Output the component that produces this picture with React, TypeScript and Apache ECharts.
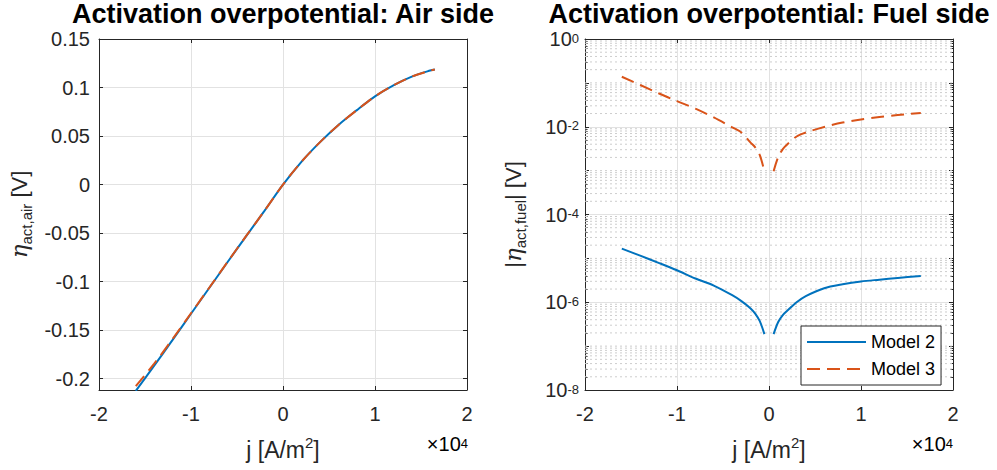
import React, { useEffect, useRef } from "react";
import * as echarts from "echarts";

// ---- data (j in units of 1e4 A/m^2) ----
const jAir = [-1.6, -1.4, -1.2, -1.0, -0.8, -0.6, -0.4, -0.2, 0, 0.2, 0.4, 0.6, 0.8, 1.0, 1.2, 1.4, 1.6, 1.65];
const etaAirModel2 = [-0.2125, -0.1865, -0.16, -0.133, -0.1063, -0.0795, -0.053, -0.0268, 0, 0.0235, 0.0435, 0.0612, 0.0765, 0.0909, 0.1022, 0.1112, 0.1175, 0.1186];
const etaAirModel3 = [-0.2075, -0.1845, -0.159, -0.1325, -0.106, -0.0793, -0.0529, -0.0268, 0, 0.0235, 0.0435, 0.0612, 0.0765, 0.0909, 0.1022, 0.1112, 0.1175, 0.1186];

const jFuel = [-1.6, -1.4, -1.2, -1.0, -0.8, -0.6, -0.4, -0.3, -0.2, -0.15, -0.1, -0.05, 0, 0.05, 0.1, 0.15, 0.2, 0.3, 0.4, 0.6, 0.8, 1.0, 1.2, 1.4, 1.65];
const etaFuelModel2: (number | null)[] = [1.67e-5, 1.156e-5, 7.91e-6, 5.35e-6, 3.47e-6, 2.4e-6, 1.445e-6, 1.06e-6, 7.24e-7, 5.5e-7, 3.7e-7, 1.88e-7, null, 1.88e-7, 3.55e-7, 5.1e-7, 6.45e-7, 1.0e-6, 1.38e-6, 2.09e-6, 2.57e-6, 2.98e-6, 3.27e-6, 3.57e-6, 3.98e-6];
const etaFuelModel3: (number | null)[] = [0.138, 0.0893, 0.058, 0.0383, 0.0258, 0.0163, 0.0097, 0.0074, 0.00436, 0.0034, 0.00225, 0.00097, null, 0.00097, 0.00205, 0.0031, 0.004, 0.006, 0.00737, 0.0099, 0.01247, 0.0147, 0.01663, 0.0185, 0.0206];

const seriesNames = ["Model 2", "Model 3"];
const titles = ["Activation overpotential: Air side", "Activation overpotential: Fuel side"];

const BLUE = "#0072BD";
const RED = "#D95319";
const AXIS = "#262626";
const GRID = "#e2e2e2";
const FONT = "'Liberation Sans', Arial, Helvetica, sans-serif";

// minor grid values of the log axis (2..9 x 10^e, plus odd decades)
const minorLog: number[] = [];
for (let e = -8; e < 0; e++) {
  for (let k = 1; k <= 9; k++) {
    if (k === 1 && e % 2 === 0) continue;
    minorLog.push(Number((k * Math.pow(10, e)).toPrecision(3)));
  }
}
// horizontal dotted lines built as one broken line series
const minorLines: any[] = [];
minorLog.forEach((v) => {
  minorLines.push([-2, v], [2, v], [0, "-"]);
});

const pairs = (xs: number[], ys: (number | null)[]) =>
  xs.map((x, i) => [x, ys[i] == null ? "-" : ys[i]]);

const tickRich = {
  b: { fontSize: 20, lineHeight: 20, verticalAlign: "bottom", fontFamily: FONT, color: AXIS },
  s: { fontSize: 13, lineHeight: 12, padding: [2.5, 0, 13.5, 0], verticalAlign: "top", fontFamily: FONT, color: AXIS },
};

const nameRich = {
  a: { fontSize: 23, lineHeight: 30, fontFamily: FONT, color: AXIS },
  s: { fontSize: 15, lineHeight: 15, padding: [0, 0, 15, 0], verticalAlign: "top", fontFamily: FONT, color: AXIS },
};

const yNameRich = {
  e: { fontSize: 23, lineHeight: 30, fontFamily: "'DejaVu Serif', serif", fontStyle: "italic", color: AXIS },
  a: { fontSize: 22, lineHeight: 30, fontFamily: FONT, color: AXIS },
  sub: { fontSize: 15, lineHeight: 15, verticalAlign: "bottom", fontFamily: FONT, color: AXIS },
};

export default function App() {
  const ref = useRef<HTMLDivElement>(null);
  useEffect(() => {
    document.body.style.margin = "0";
    if (!ref.current) return;
    const chart = echarts.init(ref.current, undefined, { renderer: "svg" });

    const baseX = (gridIndex: number, top: boolean, withName: boolean) => ({
      gridIndex,
      type: "value",
      position: top ? "top" : "bottom",
      min: -2,
      max: 2,
      interval: 1,
      axisLine: { show: true, onZero: false, lineStyle: { color: AXIS, width: 1 } },
      axisTick: { show: true, inside: true, length: 4, lineStyle: { color: AXIS } },
      axisLabel: { show: !top, fontSize: 20, color: AXIS, margin: 14, fontFamily: FONT },
      splitLine: { show: !top, lineStyle: { color: GRID, width: 1 } },
      name: withName ? "{a|j [A/m}{s|2}{a|]}" : "",
      nameLocation: "middle",
      nameGap: 45,
      nameTextStyle: { rich: nameRich },
    });

    const airY = (right: boolean) => ({
      gridIndex: 0,
      type: "value",
      position: right ? "right" : "left",
      min: -0.2116,
      max: 0.15,
      splitNumber: 7,
      minInterval: 0.05,
      maxInterval: 0.05,
      axisLine: { show: true, onZero: false, lineStyle: { color: AXIS, width: 1 } },
      axisTick: { show: true, inside: true, length: 4, lineStyle: { color: AXIS } },
      axisLabel: { show: !right, fontSize: 20, color: AXIS, margin: 9, fontFamily: FONT, showMinLabel: false },
      splitLine: { show: !right, lineStyle: { color: GRID, width: 1 } },
      name: right ? "" : "{e|η}{sub|act,air}{a| [V]}",
      nameLocation: "middle",
      nameGap: 65,
      nameTextStyle: { rich: yNameRich },
    });

    const fuelY = (right: boolean) => ({
      gridIndex: 1,
      type: "log",
      logBase: 10,
      position: right ? "right" : "left",
      min: 1e-8,
      max: 1,
      axisLine: { show: true, onZero: false, lineStyle: { color: AXIS, width: 1 } },
      axisTick: { show: true, inside: true, length: 4, lineStyle: { color: AXIS } },
      axisLabel: {
        show: !right,
        margin: 6,
        formatter: (v: number) => {
          const e = Math.round(Math.log10(v));
          if (e % 2 !== 0) return "";
          return `{b|10}{s|${e}}`;
        },
        rich: tickRich,
      },
      splitLine: { show: !right, lineStyle: { color: [GRID, "rgba(0,0,0,0)"], width: 1 } },
      name: right ? "" : "{a||}{e|η}{sub|act,fuel}{a|| [V]}",
      nameLocation: "middle",
      nameGap: 57,
      nameTextStyle: { rich: yNameRich },
    });

    const minorTickY = (right: boolean) => ({
      gridIndex: 1,
      type: "log",
      logBase: 10,
      position: right ? "right" : "left",
      min: 1e-8,
      max: 1,
      axisLine: { show: false, onZero: false },
      axisTick: { show: true, inside: true, length: 2.5, lineStyle: { color: AXIS }, customValues: minorLog },
      axisLabel: { show: false },
      splitLine: { show: false },
    });

    const line = (name: string, xIdx: number, yIdx: number, data: any[], dashed: boolean) => ({
      name,
      type: "line",
      xAxisIndex: xIdx,
      yAxisIndex: yIdx,
      data,
      symbol: "none",
      showSymbol: false,
      smooth: 0.3,
      connectNulls: false,
      z: 3,
      itemStyle: { color: dashed ? RED : BLUE },
      lineStyle: { color: dashed ? RED : BLUE, width: 2, type: dashed ? [13, 7] : "solid" },
    });

    const titleStyle = {
      fontSize: 27,
      lineHeight: 20,
      fontWeight: "bold",
      fontFamily: FONT,
      fill: "#000",
      align: "center",
      verticalAlign: "middle",
    };

    const option: any = {
      animation: false,
      backgroundColor: "#ffffff",
      textStyle: { fontFamily: FONT },
      grid: [
        { left: 99, top: 39, width: 368, height: 355 },
        { left: 585, top: 39, width: 368, height: 356 },
      ],
      xAxis: [baseX(0, false, true), baseX(0, true, false), baseX(1, false, true), baseX(1, true, false)],
      yAxis: [airY(false), airY(true), fuelY(false), fuelY(true), minorTickY(false), minorTickY(true)],
      legend: {
        data: seriesNames,
        orient: "vertical",
        left: 801,
        top: 326,
        padding: [7, 6, 7, 5],
        itemGap: 9,
        itemWidth: 59,
        itemHeight: 14,
        itemStyle: { opacity: 0 },
        backgroundColor: "#ffffff",
        borderColor: AXIS,
        borderWidth: 1,
        borderRadius: 0,
        textStyle: { fontSize: 18, color: "#000", fontFamily: FONT },
        selectedMode: false,
      },
      graphic: [
        { type: "text", x: 283, y: 13.5, style: { ...titleStyle, text: titles[0] } },
        { type: "text", x: 769, y: 13.5, style: { ...titleStyle, text: titles[1] } },
        {
          type: "text",
          x: 468,
          y: 444,
          style: { text: "{b|×10}{s|4}", align: "right", verticalAlign: "middle", rich: tickRich },
        },
        {
          type: "text",
          x: 953,
          y: 444,
          style: { text: "{b|×10}{s|4}", align: "right", verticalAlign: "middle", rich: tickRich },
        },
      ],
      series: [
        {
          name: "minor grid",
          type: "line",
          xAxisIndex: 2,
          yAxisIndex: 2,
          data: minorLines,
          symbol: "none",
          showSymbol: false,
          connectNulls: false,
          silent: true,
          z: 1,
          lineStyle: { type: [2, 3], color: "#cdcdcd", width: 1 },
          itemStyle: { color: "#cdcdcd" },
        },
        line(seriesNames[0], 0, 0, pairs(jAir, etaAirModel2), false),
        line(seriesNames[1], 0, 0, pairs(jAir, etaAirModel3), true),
        line(seriesNames[0], 2, 2, pairs(jFuel, etaFuelModel2), false),
        line(seriesNames[1], 2, 2, pairs(jFuel, etaFuelModel3), true),
      ],
    };
    chart.setOption(option);
    return () => chart.dispose();
  }, []);
  return <div ref={ref} style={{ width: 997, height: 470 }} />;
}
